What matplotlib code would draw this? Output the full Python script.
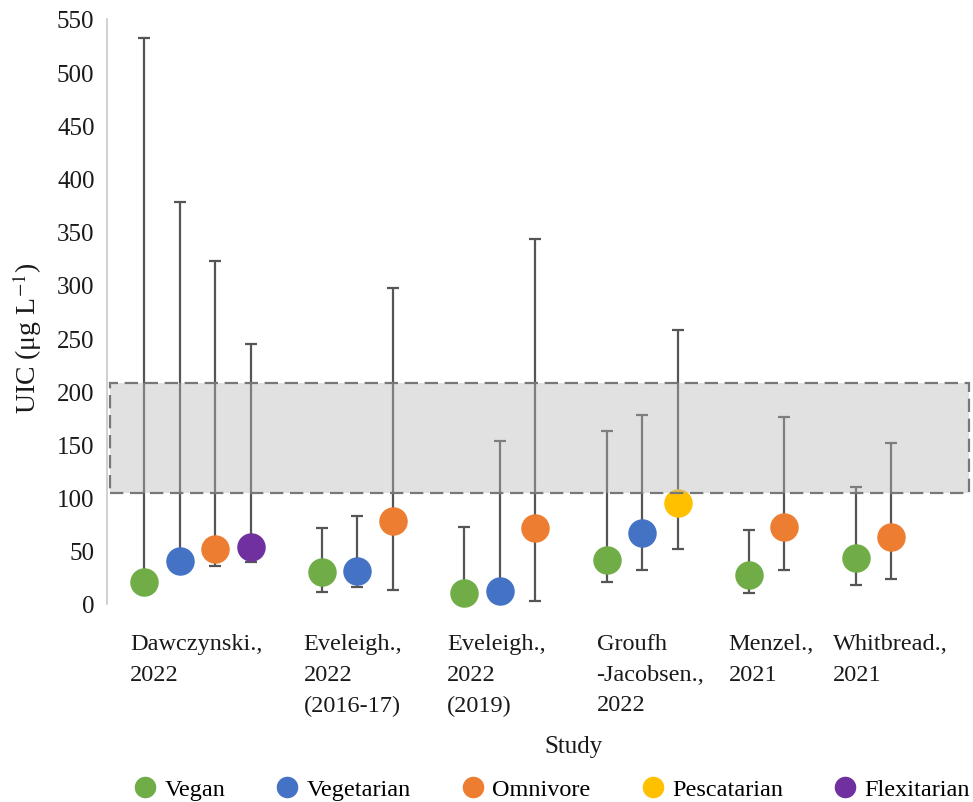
import matplotlib
matplotlib.use('Agg')
import matplotlib.pyplot as plt
from matplotlib.lines import Line2D
from matplotlib.patches import Rectangle

plt.rcParams['font.family'] = ['Liberation Serif', 'DejaVu Serif']
plt.rcParams['mathtext.fontset'] = 'stix'

# studies on the x axis (one group of points per study)
studies = ['Dawczynski.,\n2022', 'Eveleigh.,\n2022\n(2016-17)', 'Eveleigh.,\n2022\n(2019)',
           'Groufh\n-Jacobsen.,\n2022', 'Menzel.,\n2021', 'Whitbread.,\n2021']
diets = ['Vegan', 'Vegetarian', 'Omnivore', 'Pescatarian', 'Flexitarian']
diet_colors = ['#70AD47', '#4472C4', '#ED7D31', '#FFC000', '#7030A0']

# one entry per point: study index, diet, median UIC and the range (µg/L)
point_study = [0, 0, 0, 0, 1, 1, 1, 2, 2, 2, 3, 3, 3, 4, 4, 5, 5]
point_diet = ['Vegan', 'Vegetarian', 'Omnivore', 'Flexitarian',
              'Vegan', 'Vegetarian', 'Omnivore',
              'Vegan', 'Vegetarian', 'Omnivore',
              'Vegan', 'Vegetarian', 'Pescatarian',
              'Vegan', 'Omnivore',
              'Vegan', 'Omnivore']
uic_mid = [20.7, 40.7, 51.7, 53.3,
           30.4, 31.3, 78.3,
           10.3, 12.5, 71.5,
           41.7, 66.4, 95.0,
           27.3, 72.7,
           43.0, 62.7]
uic_low = [20.7, 40.7, 36.0, 39.5,
           11.0, 15.7, 13.5,
           10.3, 12.5, 3.0,
           21.0, 32.3, 51.7,
           10.3, 32.3,
           17.9, 23.5]
uic_high = [532, 378, 322.5, 244,
            71, 82.4, 297,
            72, 153.6, 343,
            162.7, 178, 257.6,
            69.3, 176,
            110, 151.4]

# recommended range (shaded band)
band_low, band_high = 104, 208

# x slots: consecutive points within a study, one empty slot between studies
xs = []
slot = -1
prev = None
for s in point_study:
    slot += 1 if (prev is None or s == prev) else 2
    xs.append(slot)
    prev = s

fig = plt.figure(figsize=(9.73, 8.03), dpi=100)
ax = fig.add_axes([107 / 973, 1 - 605 / 803, 865 / 973, 585 / 803])

for x, m, lo, hi, d in zip(xs, uic_mid, uic_low, uic_high, point_diet):
    ax.errorbar([x], [m], yerr=[[m - lo], [hi - m]], fmt='none', ecolor='#555555',
                elinewidth=1.6, capsize=4.5, capthick=1.6, zorder=2, clip_on=False)
    ax.plot([x], [m], 'o', ms=19.5, color=diet_colors[diets.index(d)],
            zorder=3, clip_on=False)

ax.set_xlim(-1.04, 23.27)
ax.set_ylim(0, 550)
ax.set_yticks(range(0, 551, 50))
ax.set_xticks([])

band = Rectangle((-0.955, band_low), 24.15, band_high - band_low,
                 facecolor=(0.72, 0.72, 0.72, 0.42), edgecolor='#777777',
                 linewidth=1.6, linestyle=(0, (6, 3)), zorder=4, clip_on=False)
ax.add_patch(band)

for sp in ['top', 'right', 'bottom']:
    ax.spines[sp].set_visible(False)
ax.spines['left'].set_color('#C8C8C8')
ax.spines['left'].set_linewidth(1.2)
ax.tick_params(axis='y', length=0, pad=9, labelsize=18, labelcolor='#1a1a1a')

# study labels, left aligned under each group
label_x = [-0.39, 4.49, 8.51, 12.72, 16.43, 19.35]
for lx, name in zip(label_x, studies):
    ax.text(lx, -0.05, name, transform=ax.get_xaxis_transform(), ha='left', va='top',
            fontsize=17.5, linespacing=1.6, color='#1a1a1a')

fig.text(574 / 973, 1 - 747 / 803, 'Study', ha='center', va='center',
         fontsize=18, color='#1a1a1a')
fig.text(27 / 973, 1 - 338 / 803, 'UIC (μg L$^{-1}$)', rotation=90, ha='center',
         va='center', fontsize=20, color='#1a1a1a')

handles = [Line2D([], [], marker='o', ls='none', ms=14.5, color=c) for c in diet_colors]
fig.legend(handles, diets, loc='center', bbox_to_anchor=(552 / 973, 1 - 790 / 803),
           ncol=5, frameon=False, fontsize=17.5, handlelength=0.9, handletextpad=0.35,
           columnspacing=2.1, borderaxespad=0, borderpad=0)

fig.savefig('out.png', dpi=100)
